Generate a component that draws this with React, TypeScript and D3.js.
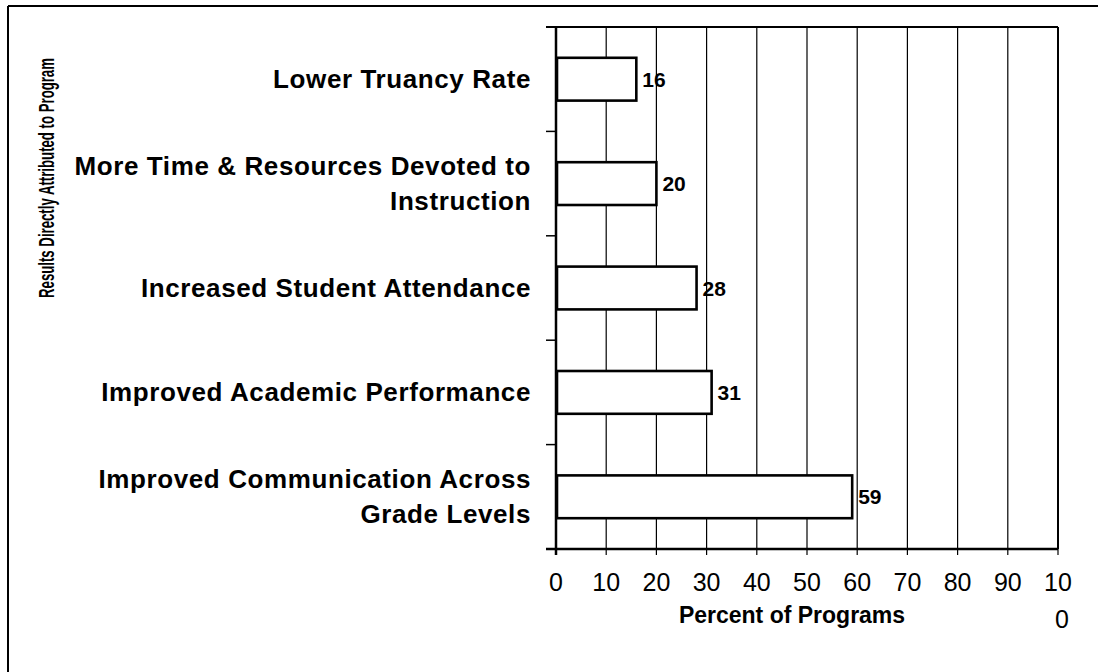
import React from "react";
import * as d3 from "d3";

const categories: string[][] = [
  ["Lower Truancy Rate"],
  ["More Time & Resources Devoted to", "Instruction"],
  ["Increased Student Attendance"],
  ["Improved Academic Performance"],
  ["Improved Communication Across", "Grade Levels"],
];
const values: number[] = [16, 20, 28, 31, 59];
const xTicks: number[] = [0, 10, 20, 30, 40, 50, 60, 70, 80, 90, 100];
const xTitle = "Percent of Programs";
const yTitle = "Results Directly Attributed to Program";

const W = 1098;
const H = 672;
const plot = { left: 556, right: 1058, top: 27, bottom: 549 };
const FONT = "'Liberation Sans', Arial, Helvetica, sans-serif";

export default function App() {
  const x = d3.scaleLinear().domain([0, 100]).range([plot.left, plot.right]);
  const y = d3
    .scaleBand<number>()
    .domain(d3.range(categories.length))
    .range([plot.top, plot.bottom])
    .paddingInner(0.59)
    .paddingOuter(0.295);
  const step = y.step();
  const bounds = d3.range(categories.length + 1).map((i) => plot.top + i * step);

  return (
    <svg
      width={W}
      height={H}
      style={{ position: "absolute", left: 0, top: 0, background: "#fff" }}
      fontFamily={FONT}
    >
      <rect x={0} y={0} width={W} height={H} fill="#fff" />
      {/* outer frame */}
      <line x1={8} x2={W} y1={6} y2={6} stroke="#000" strokeWidth={2} />
      <line x1={8} x2={8} y1={6} y2={H} stroke="#000" strokeWidth={2} />

      {/* gridlines */}
      {xTicks.slice(1).map((t) => (
        <line
          key={"g" + t}
          x1={x(t)}
          x2={x(t)}
          y1={plot.top}
          y2={plot.bottom}
          stroke="#000"
          strokeWidth={t === 100 ? 2 : 1.2}
        />
      ))}
      {/* top border */}
      <line x1={546} x2={plot.right} y1={plot.top} y2={plot.top} stroke="#000" strokeWidth={2} />
      {/* category ticks */}
      {bounds.map((b, i) => (
        <line key={"ct" + i} x1={546} x2={plot.left} y1={b} y2={b} stroke="#000" strokeWidth={1.5} />
      ))}
      {/* x ticks */}
      {xTicks.map((t) => (
        <line key={"xt" + t} x1={x(t)} x2={x(t)} y1={plot.bottom} y2={plot.bottom + 6} stroke="#000" strokeWidth={1.2} />
      ))}
      {/* axes */}
      <line x1={plot.left} x2={plot.left} y1={plot.top} y2={plot.bottom + 6} stroke="#000" strokeWidth={2.5} />
      <line x1={546} x2={plot.right} y1={plot.bottom} y2={plot.bottom} stroke="#000" strokeWidth={2.5} />

      {/* bars */}
      {values.map((v, i) => (
        <g key={"b" + i}>
          <rect
            x={x(0) + 1}
            y={y(i)!}
            width={x(v) - x(0) - 1}
            height={y.bandwidth()}
            fill="#fff"
            stroke="#000"
            strokeWidth={2.6}
          />
          <text
            x={x(v) + 6}
            y={y(i)! + y.bandwidth() / 2}
            dominantBaseline="central"
            fontSize={21}
            fontWeight="bold"
          >
            {v}
          </text>
        </g>
      ))}

      {/* category labels */}
      {categories.map((lines, i) => {
        const cy = y(i)! + y.bandwidth() / 2;
        const lh = 35;
        const start = cy - ((lines.length - 1) * lh) / 2;
        return (
          <text
            key={"c" + i}
            textAnchor="end"
            fontSize={26}
            fontWeight="bold"
            letterSpacing={0.6}
          >
            {lines.map((l, j) => (
              <tspan key={j} x={531} y={start + j * lh} dominantBaseline="central">
                {l}
              </tspan>
            ))}
          </text>
        );
      })}

      {/* x tick labels */}
      {xTicks.map((t) =>
        t === 100 ? (
          <text key={"xl" + t} textAnchor="middle" fontSize={25}>
            <tspan x={x(t)} y={582} dominantBaseline="central">10</tspan>
            <tspan x={x(t) + 4} y={619} dominantBaseline="central">0</tspan>
          </text>
        ) : (
          <text key={"xl" + t} x={x(t)} y={582} textAnchor="middle" dominantBaseline="central" fontSize={25}>
            {t}
          </text>
        )
      )}

      {/* axis titles */}
      <text x={792} y={615} textAnchor="middle" dominantBaseline="central" fontSize={23} fontWeight="bold">
        {xTitle}
      </text>
      <text
        transform={`translate(47,178) rotate(-90) scale(0.6,1)`}
        textAnchor="middle"
        dominantBaseline="central"
        fontSize={22}
        fontWeight="bold"
      >
        {yTitle}
      </text>
    </svg>
  );
}
